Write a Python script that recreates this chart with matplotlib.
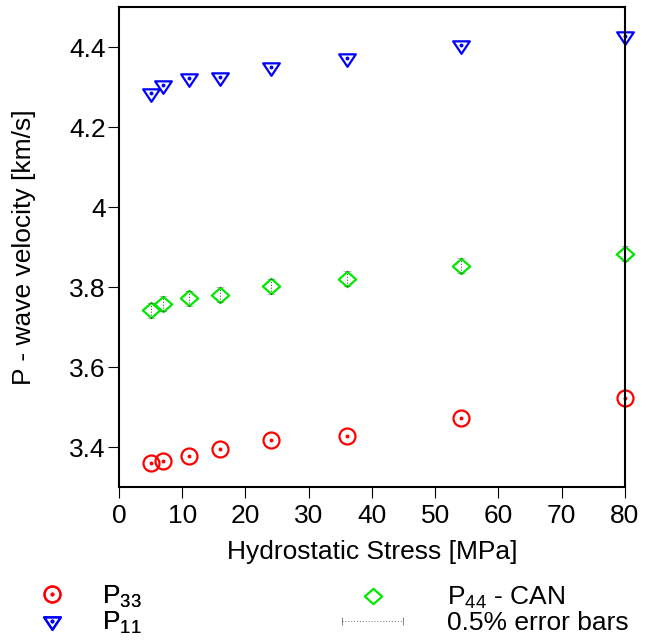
import numpy as np
import matplotlib.pyplot as plt
from matplotlib.path import Path
from matplotlib.lines import Line2D
from matplotlib.legend_handler import HandlerLine2D, HandlerTuple

plt.rcParams['font.family'] = ['Liberation Sans', 'DejaVu Sans']
plt.rcParams['mathtext.fontset'] = 'custom'
plt.rcParams['mathtext.rm'] = 'Liberation Sans'

# hydrostatic stress [MPa] and P-wave velocities [km/s]
stress = np.array([5, 7, 11, 16, 24, 36, 54, 80])
p33 = np.array([3.361, 3.365, 3.377, 3.396, 3.418, 3.429, 3.472, 3.524])
p11 = np.array([4.284, 4.305, 4.322, 4.324, 4.351, 4.372, 4.406, 4.428])
p44 = np.array([3.742, 3.758, 3.772, 3.781, 3.8025, 3.821, 3.854, 3.884])
err_frac = 0.005

xticks = np.arange(0, 81, 10)
yticks = [3.4, 3.6, 3.8, 4.0, 4.2, 4.4]

RED, BLUE, GREEN = '#ff0000', '#0000ff', '#00e800'
FS = 19

# triangle centred on its centroid, diamond slightly wider than tall
tri = Path([(-1, 0.5), (1, 0.5), (0, -1), (-1, 0.5)], closed=True)
dia = Path([(0, 0.88), (1, 0), (0, -0.88), (-1, 0), (0, 0.88)], closed=True)

fig = plt.figure(figsize=(6.48, 6.41), dpi=100)
ax = fig.add_axes([0.1836, 0.2398, 0.7809, 0.7493])

mk = dict(ls='none', mfc='none', mew=1.6, clip_on=False)
h33, = ax.plot(stress, p33, marker='o', ms=11.5, mec=RED, **mk)
d33, = ax.plot(stress, p33, ls='none', marker='o', ms=1.8, color=RED, clip_on=False)
h11, = ax.plot(stress, p11, marker=tri, ms=12, mec=BLUE, **mk)
d11, = ax.plot(stress, p11, ls='none', marker='o', ms=1.8, color=BLUE, clip_on=False)
h44, = ax.plot(stress, p44, marker=dia, ms=12.5, mec=GREEN, **mk)

eb = ax.errorbar(stress, p44, yerr=err_frac * p44, fmt='none', ecolor='#333333',
                 elinewidth=0.7, capsize=3, capthick=0.5, clip_on=False)
for col in eb[2]:
    col.set_linestyle((0, (1, 2)))
for cap in eb[1]:
    cap.set_alpha(0.45)

ax.set_xlim(0, 80)
ax.set_ylim(3.3, 4.5)
ax.set_xticks(xticks)
ax.set_yticks(yticks)
ax.set_yticklabels(['%g' % v for v in yticks])
ax.tick_params(direction='out', length=8, width=0.8, labelsize=FS, pad=4)
ax.tick_params(axis='y', pad=1.5)
for sp in ax.spines.values():
    sp.set_linewidth(1.5)

ax.set_xlabel('Hydrostatic Stress [MPa]', fontsize=FS, labelpad=9)
ax.set_ylabel('P - wave velocity [km/s]', fontsize=FS, labelpad=24)

# legend below the axes, split in two columns
leg1 = fig.legend([(h33, d33), (h11, d11)],
                  [r'P$_\mathregular{33}$', r'P$_\mathregular{11}$'],
                  handler_map={tuple: HandlerTuple(ndivide=1)},
                  loc='center left', bbox_to_anchor=(32 / 648, 1 - 610 / 641),
                  frameon=False, fontsize=FS, borderpad=0, borderaxespad=0,
                  handlelength=1.52, handletextpad=1.14, labelspacing=0.0)
fig.add_artist(leg1)

err_proxy = Line2D([], [], color='#333333', ls=(0, (1, 2)), lw=0.7,
                   marker='|', ms=6, mew=0.6, alpha=0.7)
fig.legend([h44, err_proxy], [r'P$_\mathregular{44}$ - CAN', '0.5% error bars'],
           handler_map={err_proxy: HandlerLine2D(numpoints=2)},
           loc='center left', bbox_to_anchor=(334 / 648, 1 - 610 / 641),
           frameon=False, fontsize=FS, borderpad=0, borderaxespad=0,
           handlelength=2.92, handletextpad=1.36, labelspacing=0.0)

fig.savefig('out.png', dpi=100)
